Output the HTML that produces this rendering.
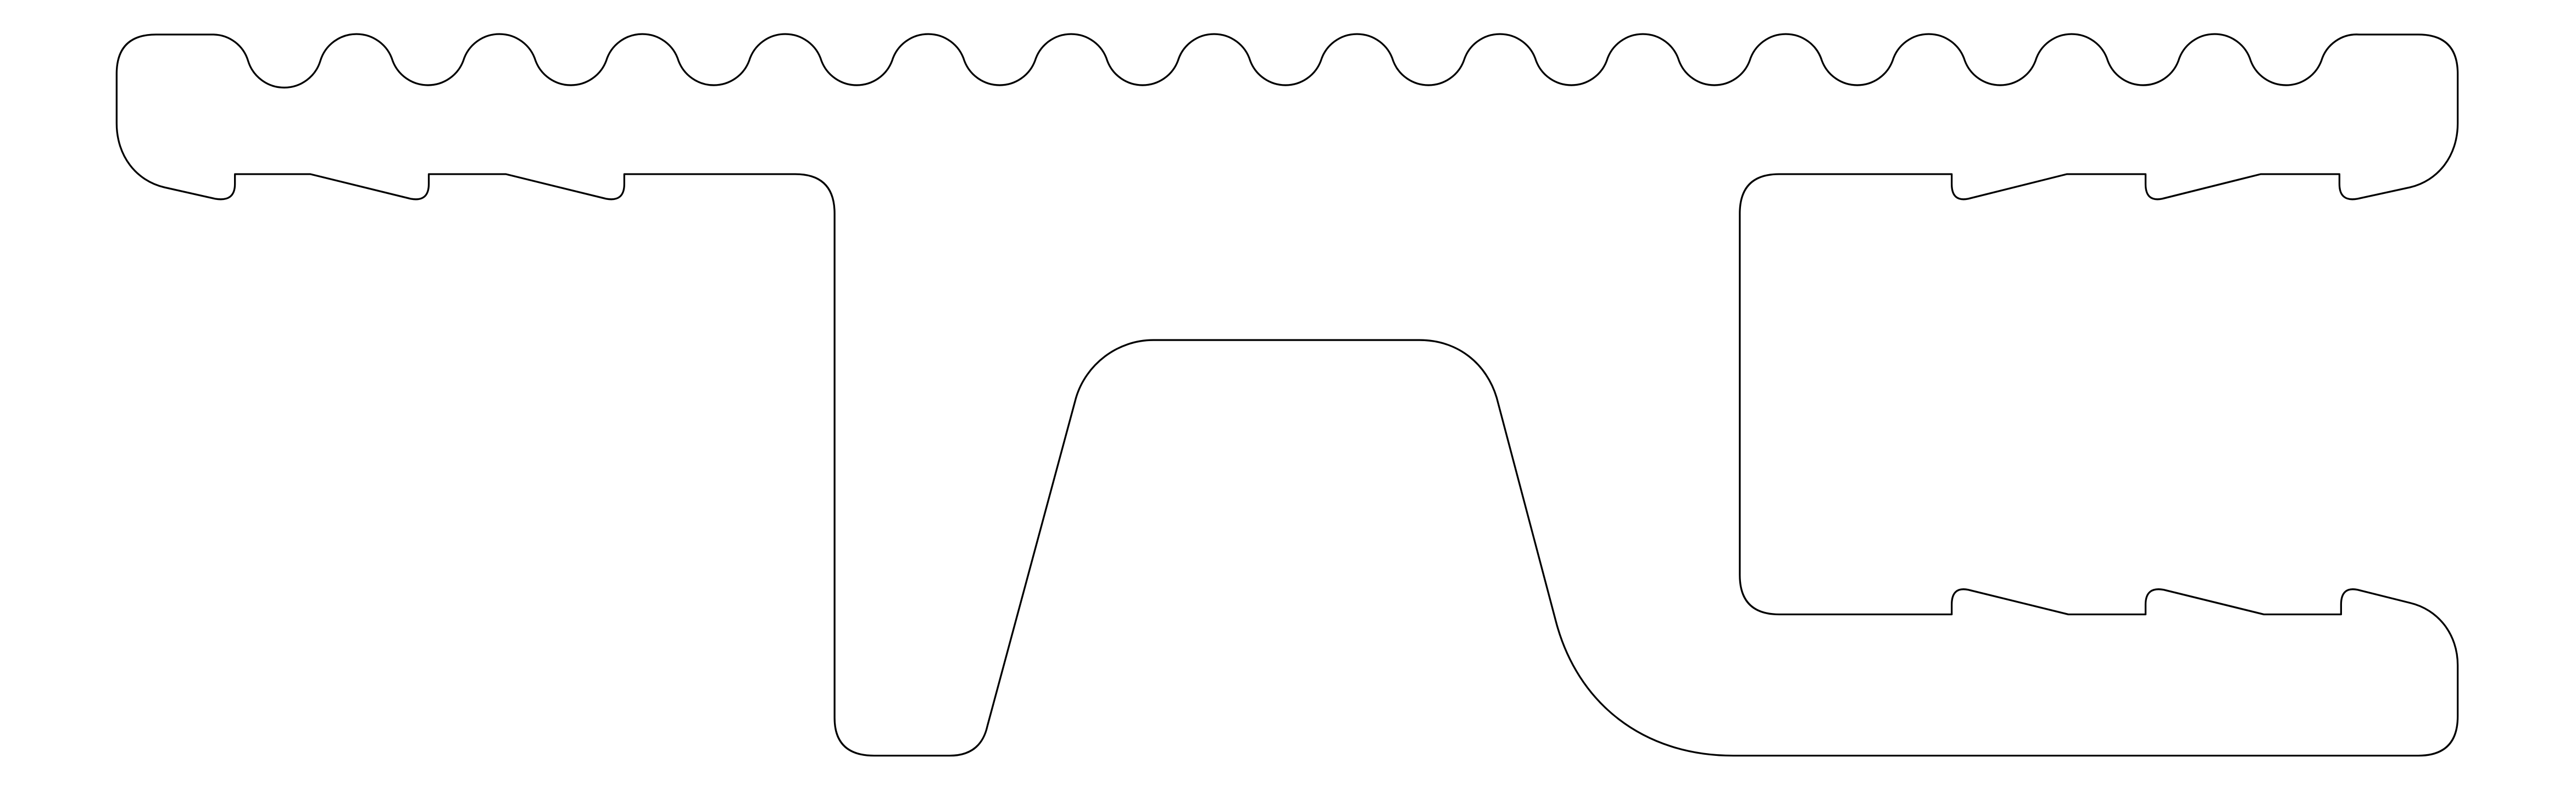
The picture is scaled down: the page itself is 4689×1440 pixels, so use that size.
<!DOCTYPE html>
<html><head><meta charset="utf-8"><style>
html,body{margin:0;padding:0;background:#fff;}
svg{display:block;}
</style></head><body>
<svg width="4689" height="1440" viewBox="0 0 1568 481.5" xmlns="http://www.w3.org/2000/svg">
<path id="outline" fill="none" stroke="#000" stroke-width="1.1" stroke-linejoin="round" d=""/>
</svg>
<script>
var d = "M71,75 L71,45 Q71,21 95,21 L130,21 A22.5,22.5 0 0 1 151,37";
var x;
for (var k = 0; k < 15; k++) {
  x = 173 + 87 * k;
  d += " A23,23 0 0 0 " + (x + 22) + ",37";
  if (k < 14) d += " A23,23 0 0 1 " + (x + 66) + ",37";
}
d += " A22.5,22.5 0 0 1 1436,21 L1472,21 Q1496,21 1496,45 L1496,75";
d += " C1496,95 1484,110 1467,114 L1435,121 Q1424,123 1424,112 L1424,106 L1376,106 L1316,121 Q1306,123 1306,112 L1306,106 L1258,106 L1198,121 Q1188,123 1188,112 L1188,106 L1083,106 Q1059,106 1059,130 L1059,350 Q1059,374 1083,374 L1188,374 L1188,368 Q1188,357 1198,359 L1259,374 L1306,374 L1306,368 Q1306,357 1317,359 L1378,374 L1425,374 L1425,368 Q1425,357 1435,359 L1467,367 C1484,371 1496,386 1496,405 L1496,436 Q1496,460 1472,460 L1055,460";
d += " C1000,460 960,428 947,378 L911,242 C905,222 888,207 864,207 L702,207 C680,207 661,222 655,242 L601,442 Q597,460 578,460 L532,460 Q508,460 508,437 L508,130 Q508,106 484,106 L380,106 L380,112 Q380,123 369,121 L308,106 L261,106 L261,112 Q261,123 250,121 L189,106 L143,106 L143,112 Q143,123 131,121 L100,114 C83,110 71,95 71,75 Z";
document.getElementById('outline').setAttribute('d', d);
</script>
</body></html>
